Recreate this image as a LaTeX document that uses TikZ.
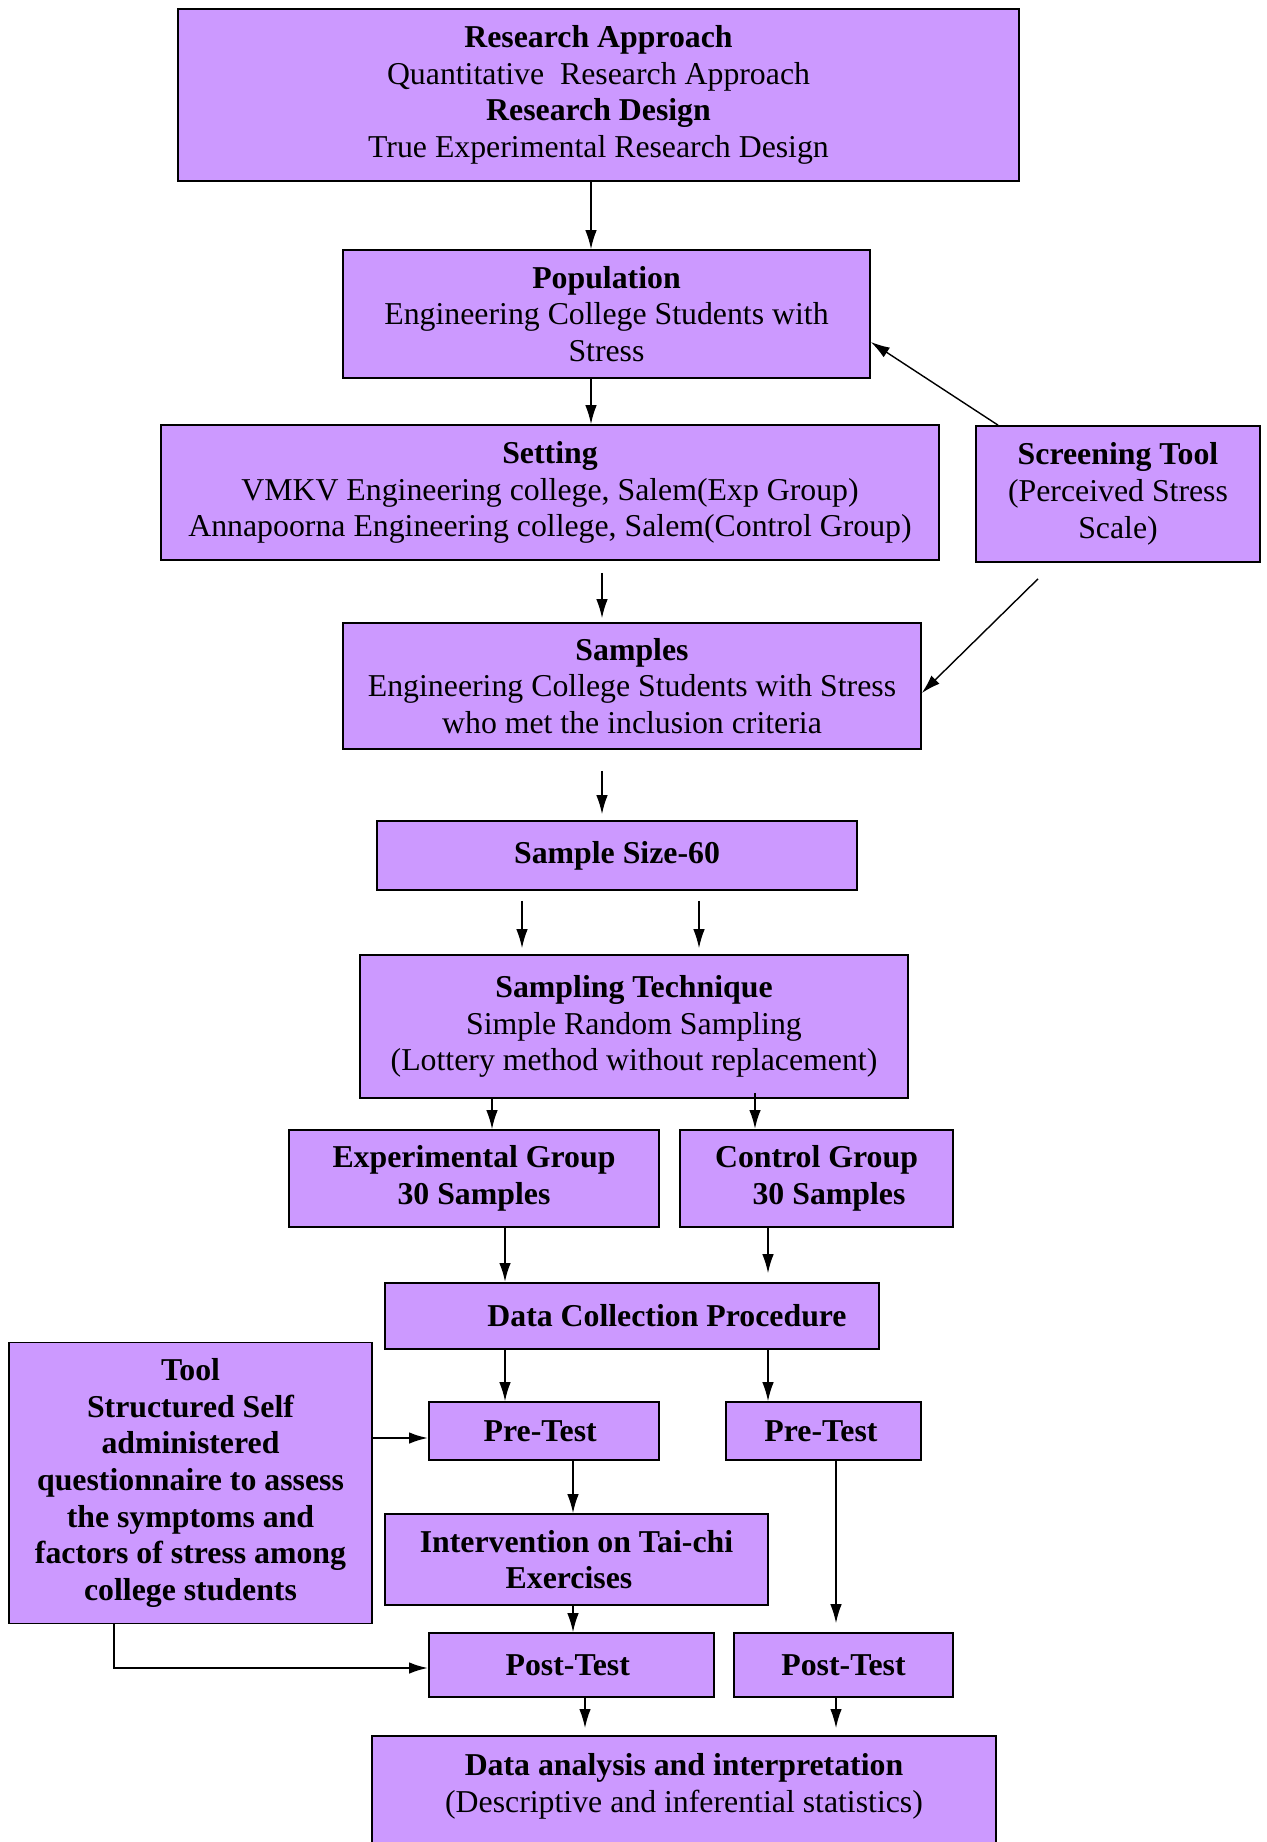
\documentclass[tikz,border=0pt]{standalone}
\usepackage{fontspec}
\setmainfont{Liberation Serif}
\usetikzlibrary{arrows.meta}
\definecolor{boxfill}{HTML}{CC99FF}

\begin{document}
\begin{tikzpicture}[x=0.02cm,y=-0.02cm,
			box/.style={
				draw=black,
				fill=boxfill,
				line width=1pt,
				inner sep=0pt,
				align=center,
				font=\fontsize{18.1}{20.9}\selectfont
			},
			arr/.style={-{Latex[length=3.8mm,width=2.3mm]},line width=0.8pt},
			thickarr/.style={arr,line width=1.3pt}]
			
			\useasboundingbox (0,0) rectangle (1267,1842);
			
			\node[box,minimum width=16.82cm,minimum height=3.44cm] (research) at (598.5,95){\textbf{Research Approach}\\Quantitative\ \ Research Approach\\\textbf{Research Design}\\True Experimental Research Design};
			
			\node[box,minimum width=10.54cm,minimum height=2.56cm] (population) at (606.5,314){\textbf{Population}\\Engineering College Students with\\Stress};
			
			\node[box,minimum width=15.56cm,minimum height=2.70cm] (setting) at (550,492.5){\textbf{Setting}\\VMKV Engineering college, Salem(Exp Group)\\Annapoorna Engineering college, Salem(Control Group)};
			
			\node[box,minimum width=5.68cm,minimum height=2.72cm] (screening) at (1118,494){\textbf{Screening Tool}\\(Perceived Stress\\Scale)};
			
			\node[box,minimum width=11.56cm,minimum height=2.52cm] (samples) at (632,686){\textbf{Samples}\\Engineering College Students with Stress\\who met the inclusion criteria};
			
			\node[box,minimum width=9.60cm,minimum height=1.38cm] (samplesize) at (617,855.5){\textbf{Sample Size-60}};
			
			\node[box,minimum width=10.96cm,minimum height=2.86cm] (technique) at (634,1026.5){\textbf{Sampling Technique}\\Simple Random Sampling\\(Lottery method without replacement)};
			
			\node[box,minimum width=7.40cm,minimum height=1.94cm] (expgroup) at (474,1178.5){\textbf{Experimental Group}\\\textbf{30 Samples}};
			
			\node[box,minimum width=5.46cm,minimum height=1.94cm] (ctrlgroup) at (816.5,1178.5){\textbf{Control Group}\\\hspace*{0.5cm}\textbf{30 Samples}};
			
			\node[box,minimum width=9.88cm,minimum height=1.32cm] (datacoll) at (632,1316){\hspace*{1.4cm}\textbf{Data Collection Procedure}};
			
			\node[box,minimum width=7.26cm,minimum height=5.62cm,font=\fontsize{18.1}{20.9}\selectfont\bfseries] (tool) at (190.5,1483){Tool\\Structured Self\\administered\\questionnaire to assess\\the symptoms and\\factors of stress among\\college students};
			
			\node[box,minimum width=4.60cm,minimum height=1.16cm] (pretestA) at (544,1431){\textbf{Pre-Test}\hspace*{0.15cm}};
			
			\node[box,minimum width=3.90cm,minimum height=1.16cm] (pretestB) at (823.5,1431){\textbf{Pre-Test}\hspace*{0.1cm}};
			
			\node[box,minimum width=7.66cm,minimum height=1.82cm] (intervention) at (576.5,1559.5){\textbf{Intervention on Tai-chi}\\\textbf{Exercises}\hspace*{0.3cm}};
			
			\node[box,minimum width=5.70cm,minimum height=1.28cm] (posttestA) at (571.5,1665){\textbf{Post-Test}\hspace*{0.15cm}};
			
			\node[box,minimum width=4.38cm,minimum height=1.28cm] (posttestB) at (843.5,1665){\textbf{Post-Test}};
			
			\node[box,minimum width=12.48cm,anchor=north,inner ysep=0.36cm,text depth=2cm] (analysis) at (684,1735){\textbf{Data analysis and interpretation}\\(Descriptive and inferential statistics)};
			
			\draw[arr](research.south -| 591,0)--(population.north -| 591,0);
			
			\draw[arr](population.south -| 591,0)--(setting.north -| 591,0);
			
			\draw[arr](screening.north -| 998,0)--(population.east |- 0,342);
			
			\draw[arr,shorten <=0.24cm,shorten >=0.08cm](setting.south -| 602,0)--(samples.north -| 602,0);
			
			\draw[arr]([yshift=-0.32cm]screening.south -| 1038,0)--(samples.east |- 0,693);
			
			\draw[arr,shorten <=0.42cm,shorten >=0.12cm](samples.south -| 602,0)--(samplesize.north -| 602,0);
			
			\draw[arr,shorten <=0.2cm,shorten >=0.12cm](samplesize.south -| 522,0)--(technique.north -| 522,0);
			
			\draw[arr,shorten <=0.2cm,shorten >=0.12cm](samplesize.south -| 699,0)--(technique.north -| 699,0);
			
			\draw[arr](technique.south -| 492,0)--(expgroup.north -| 492,0);
			
			\draw[thickarr,shorten <=-0.12cm](technique.south -| 755,0)--(ctrlgroup.north -| 755,0);
			
			\draw[thickarr](expgroup.south -| 505,0)--(datacoll.north -| 505,0);
			
			\draw[arr,shorten >=0.18cm](ctrlgroup.south -| 768,0)--(datacoll.north -| 768,0);
			
			\draw[arr](datacoll.south -| 505,0)--(pretestA.north -| 505,0);
			
			\draw[arr](datacoll.south -| 768,0)--(pretestB.north -| 768,0);
			
			\draw[thickarr](tool.east |- 0,1438)--(pretestA.west |- 0,1438);
			
			\draw[arr](pretestA.south -| 573,0)--(intervention.north -| 573,0);
			
			\draw[arr](intervention.south -| 573,0)--(posttestA.north -| 573,0);
			
			\draw[arr,shorten >=0.18cm](pretestB.south -| 836,0)--(posttestB.north -| 836,0);
			
			\draw[thickarr](tool.south -| 114,0)|-(posttestA.west |- 0,1668);
			
			\draw[arr,shorten >=0.14cm](posttestA.south -| 585,0)--(analysis.north -| 585,0);
			
			\draw[arr,shorten >=0.14cm](posttestB.south -| 836,0)--(analysis.north -| 836,0);
			
		\end{tikzpicture}
\end{document}
